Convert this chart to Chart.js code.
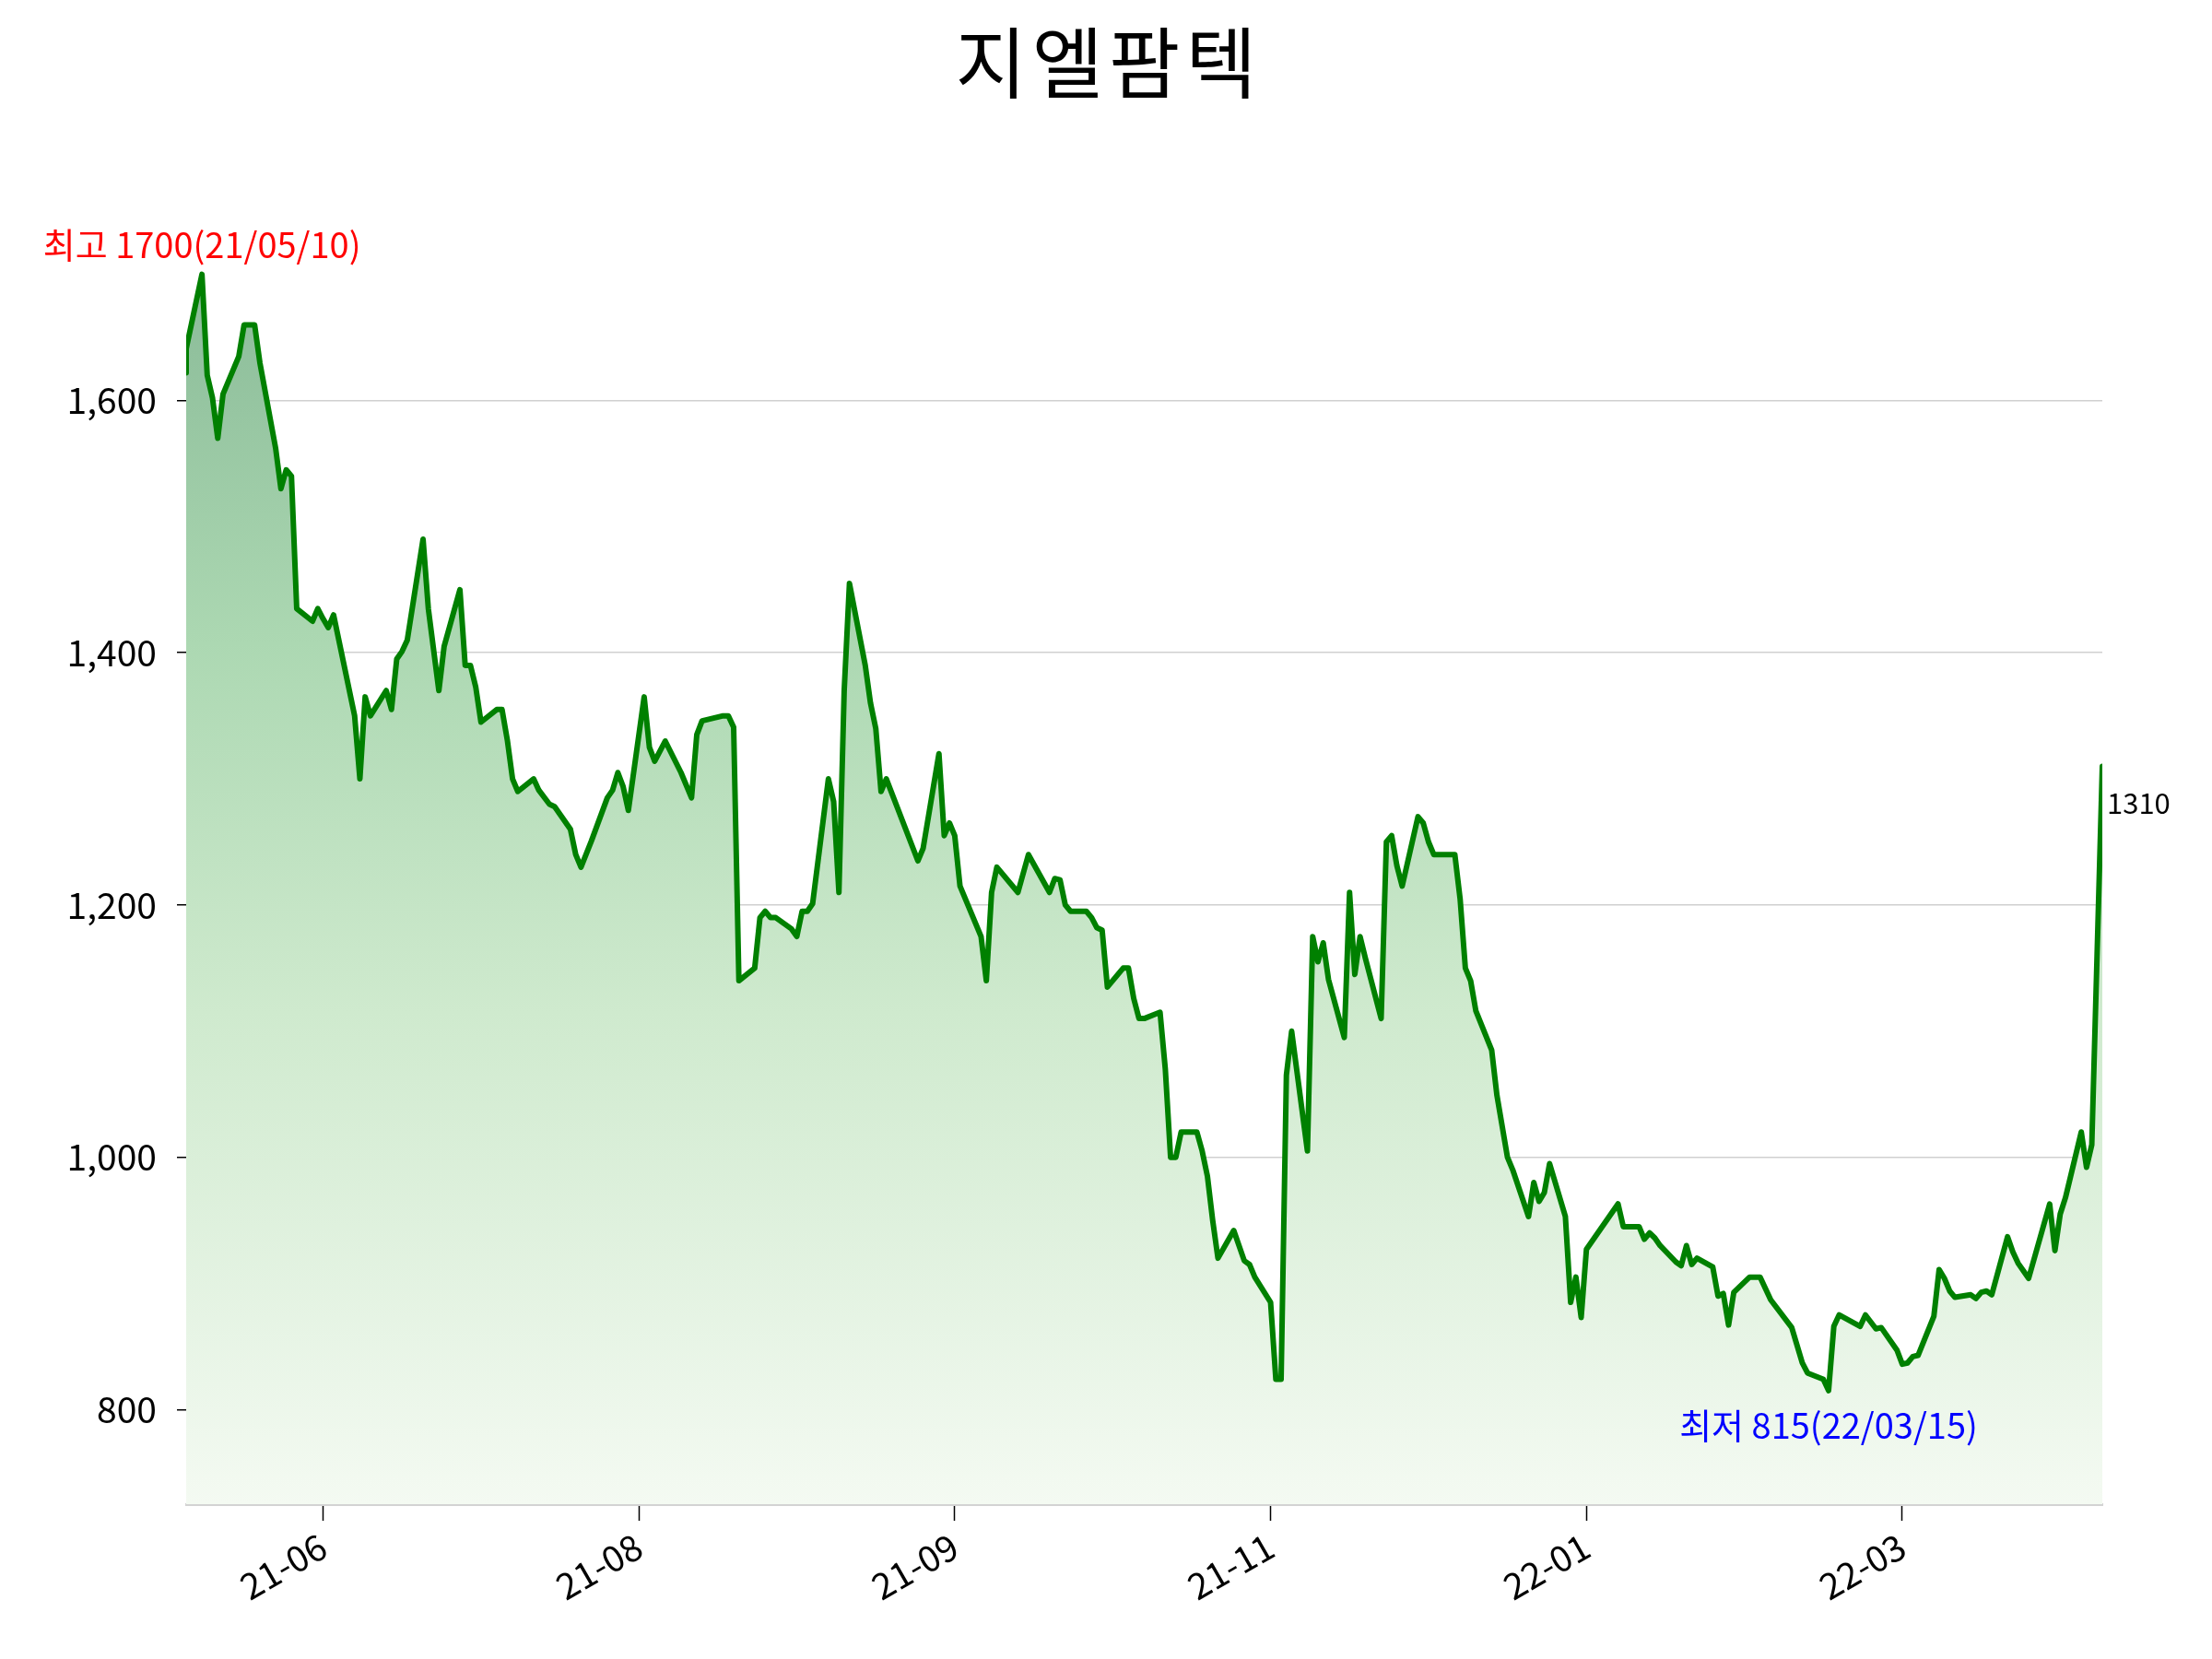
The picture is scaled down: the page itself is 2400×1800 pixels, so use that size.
<!DOCTYPE html>
<html>
<head>
<meta charset="utf-8">
<script src="https://cdn.jsdelivr.net/npm/chart.js@4.4.1/dist/chart.umd.min.js"></script>
<style>
  html, body { margin: 0; padding: 0; background: #ffffff; }
  canvas { display: block; }
</style>
</head>
<body>
<canvas id="c" width="2400" height="1800"></canvas>
<script>
const chartTitle = '지엘팜텍';

const dates = [
'2021-05-07','2021-05-07','2021-05-10','2021-05-11','2021-05-12','2021-05-13','2021-05-14','2021-05-17','2021-05-18','2021-05-20','2021-05-21','2021-05-24','2021-05-25','2021-05-26','2021-05-27','2021-05-28','2021-05-31',
'2021-06-01','2021-06-02','2021-06-03','2021-06-04','2021-06-08','2021-06-09','2021-06-10','2021-06-11','2021-06-14','2021-06-15','2021-06-16','2021-06-17','2021-06-18','2021-06-21','2021-06-22','2021-06-24','2021-06-25','2021-06-28','2021-06-29','2021-06-30',
'2021-07-01','2021-07-02','2021-07-05','2021-07-06','2021-07-07','2021-07-08','2021-07-09','2021-07-12','2021-07-13','2021-07-15','2021-07-16','2021-07-19','2021-07-20','2021-07-21','2021-07-23','2021-07-26','2021-07-27','2021-07-28','2021-07-29','2021-07-30',
'2021-08-02','2021-08-03','2021-08-04','2021-08-06','2021-08-09','2021-08-11','2021-08-12','2021-08-13','2021-08-17','2021-08-18','2021-08-19','2021-08-20','2021-08-23','2021-08-24','2021-08-25','2021-08-26','2021-08-27','2021-08-30','2021-08-31',
'2021-09-01','2021-09-02','2021-09-03','2021-09-06','2021-09-07','2021-09-08','2021-09-09','2021-09-10','2021-09-13','2021-09-14','2021-09-15','2021-09-16','2021-09-17','2021-09-23','2021-09-24','2021-09-27','2021-09-28','2021-09-29','2021-09-30',
'2021-10-01','2021-10-05','2021-10-06','2021-10-07','2021-10-08','2021-10-12','2021-10-14','2021-10-18','2021-10-19','2021-10-20','2021-10-21','2021-10-22','2021-10-25','2021-10-26','2021-10-27','2021-10-28','2021-10-29',
'2021-11-01','2021-11-02','2021-11-03','2021-11-04','2021-11-05','2021-11-08','2021-11-09','2021-11-10','2021-11-11','2021-11-12','2021-11-15','2021-11-16','2021-11-17','2021-11-18','2021-11-19','2021-11-22','2021-11-24','2021-11-25','2021-11-26','2021-11-29','2021-11-30',
'2021-12-01','2021-12-02','2021-12-03','2021-12-06','2021-12-07','2021-12-08','2021-12-09','2021-12-10','2021-12-13','2021-12-14','2021-12-15','2021-12-16','2021-12-17','2021-12-20','2021-12-21','2021-12-22','2021-12-23','2021-12-24','2021-12-27','2021-12-28','2021-12-29','2021-12-30',
'2022-01-03','2022-01-04','2022-01-05','2022-01-06','2022-01-07','2022-01-10','2022-01-11','2022-01-13','2022-01-14','2022-01-17','2022-01-18','2022-01-19','2022-01-20','2022-01-21','2022-01-24','2022-01-25','2022-01-26','2022-01-27','2022-01-28',
'2022-02-03','2022-02-04','2022-02-07','2022-02-08','2022-02-09','2022-02-10','2022-02-11','2022-02-14','2022-02-15','2022-02-16','2022-02-17','2022-02-18','2022-02-21','2022-02-22','2022-02-23','2022-02-24','2022-02-25','2022-02-28',
'2022-03-02','2022-03-04','2022-03-08','2022-03-10','2022-03-11','2022-03-14','2022-03-15','2022-03-16','2022-03-17','2022-03-21','2022-03-22','2022-03-24','2022-03-25','2022-03-28','2022-03-29','2022-03-30','2022-03-31',
'2022-04-01','2022-04-04','2022-04-05','2022-04-06','2022-04-07','2022-04-08','2022-04-11','2022-04-12','2022-04-13','2022-04-14','2022-04-15','2022-04-18','2022-04-19','2022-04-20','2022-04-21','2022-04-22','2022-04-26','2022-04-27','2022-04-28','2022-04-29',
'2022-05-02','2022-05-03','2022-05-04','2022-05-06'
];

const closes = [
1622,1641,1700,1620,1602,1570,1605,1635,1660,1660,1630,1562,1530,1545,1540,1435,1425,
1435,1427,1420,1430,1350,1300,1365,1350,1370,1355,1395,1401,1410,1490,1435,1370,1405,1450,1390,1390,
1373,1345,1355,1355,1331,1300,1290,1300,1291,1280,1278,1260,1240,1230,1251,1285,1291,1305,1294,1275,
1365,1325,1314,1330,1305,1285,1335,1346,1350,1350,1341,1140,1150,1190,1195,1190,1190,1181,1175,
1195,1195,1201,1300,1282,1210,1370,1455,1390,1360,1340,1290,1300,1235,1245,1320,1255,1265,1255,
1215,1175,1140,1210,1230,1210,1240,1210,1221,1220,1200,1195,1195,1190,1182,1180,1135,
1150,1150,1126,1110,1110,1115,1070,1000,1000,1020,1020,1005,985,950,920,942,918,915,905,885,824,
824,1065,1100,1005,1175,1155,1170,1141,1095,1210,1145,1175,1158,1110,1250,1255,1231,1215,1270,1265,1250,1240,
1240,1205,1150,1140,1116,1085,1049,1000,990,953,980,965,972,995,953,885,905,873,927,
963,945,945,935,940,936,930,917,914,930,915,920,913,890,892,867,893,905,
905,887,865,837,829,824,815,866,875,866,875,864,865,847,836,837,842,
843,874,911,904,894,889,891,888,893,894,891,937,925,916,910,904,963,926,955,968,
1020,992,1010,1310
];

const xStart = '2021-05-07';
const xEnd = '2022-05-06';
const xTickDates = ['2021-06-02','2021-08-01','2021-09-30','2021-11-29','2022-01-28','2022-03-29'];
const xTickLabels = ['21-06','21-08','21-09','21-11','22-01','22-03'];
const yTicks = [800, 1000, 1200, 1400, 1600];
const yMin = 725;
const yMax = 1870;

const toDay = s => Date.UTC(+s.slice(0,4), +s.slice(5,7) - 1, +s.slice(8,10)) / 864e5;
const shortDate = s => s.slice(2,4) + '/' + s.slice(5,7) + '/' + s.slice(8,10);

const points = dates.map((d, i) => ({ x: toDay(d), y: closes[i] }));
const xTickDays = xTickDates.map(toDay);

let iMax = 0, iMin = 0;
closes.forEach((v, i) => { if (v > closes[iMax]) iMax = i; if (v < closes[iMin]) iMin = i; });
const iLast = closes.length - 1;

const KR = '"Noto Sans CJK KR", "Noto Sans", sans-serif';

const titlePlugin = {
  id: 'titleText',
  afterDraw(chart) {
    const c = chart.ctx;
    c.save();
    c.fillStyle = '#000';
    c.font = '84px ' + KR;
    try { c.letterSpacing = '6px'; } catch (e) {}
    c.textAlign = 'center';
    c.textBaseline = 'middle';
    c.fillText(chartTitle, chart.width / 2 + 3, 68);
    c.restore();
  }
};

const annotPlugin = {
  id: 'annot',
  afterDatasetsDraw(chart) {
    const c = chart.ctx, xs = chart.scales.x, ys = chart.scales.y;
    c.save();
    let px = xs.getPixelForValue(points[iMax].x), py = ys.getPixelForValue(closes[iMax]);
    c.font = '38px ' + KR;
    c.textAlign = 'center';
    c.textBaseline = 'middle';
    c.fillStyle = '#ff0000';
    c.fillText('최고 ' + closes[iMax] + '(' + shortDate(dates[iMax]) + ')', px, py - 32);
    px = xs.getPixelForValue(points[iMin].x); py = ys.getPixelForValue(closes[iMin]);
    c.fillStyle = '#0000ff';
    c.fillText('최저 ' + closes[iMin] + '(' + shortDate(dates[iMin]) + ')', px, py + 38);
    px = xs.getPixelForValue(points[iLast].x); py = ys.getPixelForValue(closes[iLast]);
    c.font = '31px ' + KR;
    c.textAlign = 'left';
    c.fillStyle = '#000';
    c.fillText(String(closes[iLast]), px + 5, py + 40);
    c.restore();
  }
};

Chart.defaults.font.family = KR;

new Chart(document.getElementById('c'), {
  type: 'line',
  data: {
    datasets: [{
      data: points,
      borderColor: '#008000',
      borderWidth: 6,
      borderJoinStyle: 'round',
      borderCapStyle: 'round',
      pointRadius: 0,
      tension: 0,
      fill: 'start',
      backgroundColor: (ctx) => {
        const chart = ctx.chart;
        const area = chart.chartArea;
        if (!area || !chart.scales.y) return 'rgba(0,128,0,0.25)';
        const top = chart.scales.y.getPixelForValue(closes[iMax]);
        const g = chart.ctx.createLinearGradient(0, top, 0, area.bottom);
        g.addColorStop(0, 'rgb(138,187,152)');
        g.addColorStop(0.3, 'rgb(172,216,178)');
        g.addColorStop(0.6, 'rgb(207,234,206)');
        g.addColorStop(1, 'rgb(244,250,242)');
        return g;
      }
    }]
  },
  options: {
    responsive: false,
    animation: false,
    devicePixelRatio: 1,
    layout: { padding: { top: 65, right: 119, left: 0, bottom: 0 } },
    plugins: { legend: { display: false }, tooltip: { enabled: false }, title: { display: false } },
    scales: {
      x: {
        type: 'linear',
        min: toDay(xStart),
        max: toDay(xEnd),
        afterBuildTicks: (s) => { s.ticks = xTickDays.map(v => ({ value: v })); },
        afterFit: (s) => { s.height = 168; },
        ticks: {
          callback: (v, i) => xTickLabels[i],
          minRotation: 30,
          maxRotation: 30,
          autoSkip: false,
          font: { size: 39 },
          color: '#000',
          padding: 4
        },
        grid: { display: true, drawOnChartArea: false, drawTicks: true, tickLength: 18, tickColor: '#000', tickWidth: 1.5 },
        border: { display: true, color: '#d3d3d3', width: 3 }
      },
      y: {
        min: yMin,
        max: yMax,
        afterBuildTicks: (s) => { s.ticks = yTicks.map(v => ({ value: v })); },
        afterFit: (s) => { s.width = 202; },
        ticks: {
          callback: (v) => Number(v).toLocaleString('en-US'),
          font: { size: 39 },
          color: '#000',
          padding: 22
        },
        grid: { color: '#d0d0d0', lineWidth: 1.5, drawTicks: true, tickLength: 10, tickColor: '#000', tickWidth: 1.5 },
        border: { display: false }
      }
    }
  },
  plugins: [titlePlugin, annotPlugin]
});
</script>
</body>
</html>
